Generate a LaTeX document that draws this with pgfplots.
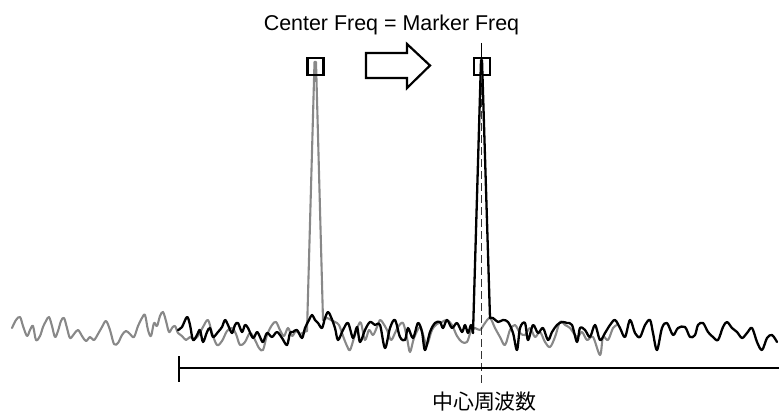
\documentclass[border=0pt]{standalone}
\usepackage{fontspec}
\setmainfont{Liberation Sans}
\newfontfamily\cjk{Noto Sans CJK JP}
\usepackage{pgfplots}
\pgfplotsset{compat=1.18}
\definecolor{traceGray}{RGB}{136,136,136}

\pgfplotsset{
  grayline/.style={color=traceGray, line width=2.1bp, line join=round, line cap=round, no markers},
  blackline/.style={color=black, line width=2.3bp, line join=round, line cap=round, no markers},
  noise/.style={smooth, tension=0.55},
}

\begin{document}
\begin{tikzpicture}
\begin{axis}[
  name=main, at={(0,0)}, anchor=south west,
  width=779bp, height=412bp, scale only axis,
  xmin=0, xmax=779, ymin=0, ymax=412, y dir=reverse,
  hide axis, clip=false]

  % previous sweep (gray)
  \addplot[grayline, noise] coordinates {
    (12,328) (16,320) (20,317) (23,326) (27,336) (30,330) (33,326) (36,340)
    (40,336) (43,327) (46,321) (49,317) (52,326) (55,337) (58,331) (61,321)
    (64,318) (67,328) (70,338) (74,334) (78,330) (82,336) (86,341) (90,337)
    (94,340) (98,334) (102,327) (106,321) (110,330) (114,344) (118,343) (122,335)
    (126,331) (130,334) (134,337) (138,326) (142,318) (145,315) (148,330) (151,336)
    (154,323) (157,326) (160,316) (163,312) (166,321) (169,332) (172,328) (175,326)
    (178,333) (182,336) (186,340) (190,337) (194,339) (198,336) (203,327) (208,320)
    (212,333) (217,345) (222,341) (227,331) (232,328) (236,334) (240,345) (245,342)
    (250,333) (255,340) (259,348) (263,350) (267,335) (272,325) (276,322) (280,330)
    (284,336) (288,328) (292,336) (296,331) (300,334) (304,332) (307,331)
  };
  \addplot[grayline] coordinates {
    (307,331) (314.5,62) (316,62) (323,320)
  };
  \addplot[grayline, noise] coordinates {
    (323,320) (327,318) (331,320) (335,322) (339,325) (343,336) (347,346) (350,350)
    (354,338) (358,326) (361,323) (365,340) (369,330) (373,335) (377,327) (380,320)
    (383,323) (387,330) (391,340) (395,333) (398,327) (403,323) (407,338) (410,352)
    (414,338) (420,327) (424,338) (427,345) (432,330) (437,324) (442,322) (447,320)
    (452,325) (457,336) (462,342) (467,342) (471,331) (475,328) (480,330) (485,323)
    (490,318) (495,328) (500,337) (505,345) (510,330) (515,325) (520,333) (525,335)
    (530,328) (535,337) (540,332) (545,342) (550,347) (555,337) (560,322) (565,325)
    (570,328) (577,337) (582,332) (587,340) (593,337) (600,355) (603,337) (608,340)
    (613,328) (617,325)
  };

  % current sweep (black)
  \addplot[blackline, noise] coordinates {
    (178,330) (182,327) (187,317) (190,325) (193,340) (197,335) (200,330) (203,342)
    (207,332) (210,328) (213,337) (218,332) (222,327) (225,320) (228,325) (232,333)
    (235,325) (238,323) (242,332) (245,325) (248,328) (253,338) (257,332) (260,337)
    (263,342) (267,333) (272,337) (277,332) (282,338) (287,345) (290,333) (293,332)
    (297,330) (302,338) (305,328) (309,320) (312,315) (315,320) (318,323) (322,328)
    (325,318) (328,312) (331,317) (335,328) (338,340) (343,330) (348,323) (353,338)
    (357,327) (360,342) (365,330) (370,322) (375,325) (380,325) (385,348) (390,328)
    (395,320) (400,337) (405,340) (408,328) (413,338) (418,323) (422,332) (425,350)
    (430,332) (435,323) (440,322) (443,328) (447,320) (452,328) (457,323) (462,332)
    (465,325) (468,333) (471,325) (473,333)
  };
  \addplot[blackline] coordinates {
    (473,333) (481,60) (482,60) (490,318)
  };
  \addplot[blackline, noise] coordinates {
    (490,318) (493,318) (498,322) (503,320) (508,322) (513,333) (517,350) (520,328)
    (525,323) (528,340) (533,325) (538,333) (543,328) (548,340) (552,332) (557,325)
    (562,322) (567,323) (572,325) (577,342) (580,328) (585,330) (590,337) (595,325)
    (600,340) (605,333) (610,325) (615,320) (620,328) (625,337) (630,320) (635,333)
    (640,337) (645,325) (650,320) (653,333) (657,350) (662,328) (667,323) (673,335)
    (678,328) (685,327) (690,337) (695,335) (698,325) (703,323) (708,332) (713,337)
    (718,340) (723,327) (727,322) (732,328) (737,332) (742,338) (747,333) (752,328)
    (757,342) (762,350) (767,338) (772,335) (777,342)
  };

  % markers
  \draw[line width=2.2bp] (axis cs:307.5,58) rectangle (axis cs:323.5,75);
  \draw[line width=2.2bp] (axis cs:474,58) rectangle (axis cs:490,75);

  % center line
  \draw[line width=0.8bp] (axis cs:481,43) -- (axis cs:481,75);
  \draw[line width=0.8bp, black!80, dash pattern=on 8bp off 4bp] (axis cs:481,75) -- (axis cs:481,385);

  % frequency axis
  \draw[line width=1.4bp] (axis cs:179,368) -- (axis cs:779,368);
  \draw[line width=1.4bp] (axis cs:179,356) -- (axis cs:179,382);

  % arrow
  \draw[line width=2.2bp, line join=miter, fill=white]
    (axis cs:366,53) -- (axis cs:407,53) -- (axis cs:407,44) -- (axis cs:430,65.5)
    -- (axis cs:407,88) -- (axis cs:407,78) -- (axis cs:366,78) -- cycle;

  % labels
  \node[anchor=base, inner sep=0pt, font=\fontsize{21.5}{24}\selectfont]
    at (axis cs:391.5,31) {Center Freq = Marker Freq};
  \node[anchor=base, inner sep=0pt, font=\cjk\fontsize{21}{24}\selectfont]
    at (axis cs:484.5,409) {中心周波数};
\end{axis}
\pgfresetboundingbox
\path (main.south west) rectangle (main.north east);
\end{tikzpicture}
\end{document}
